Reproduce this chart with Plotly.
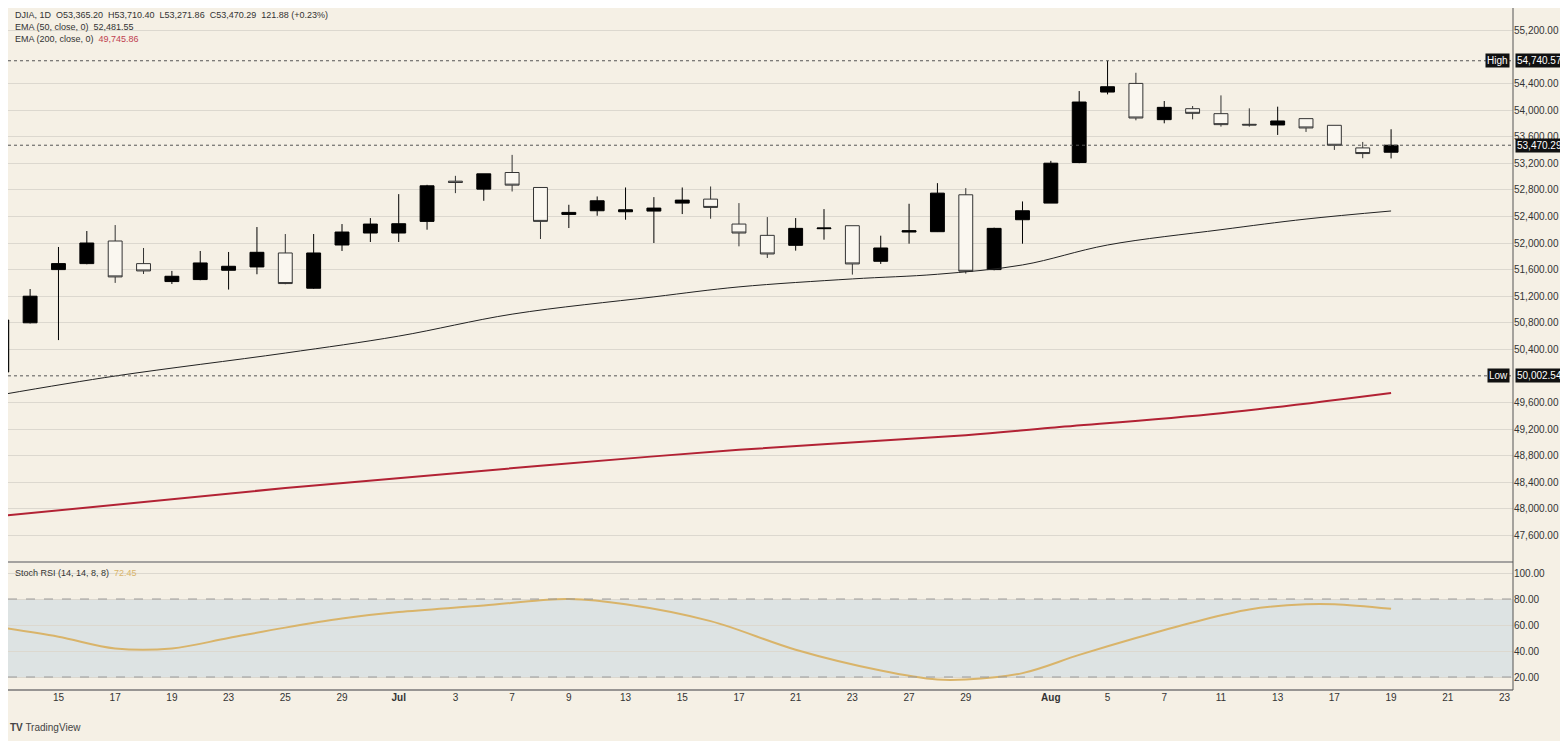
import plotly.graph_objects as go

# daily candles, index 0 = first (clipped) bar on the left
opens = [50060, 50800, 51600, 51690, 52030, 51690, 51420, 51450, 51590, 51640,
         51850, 51320, 51970, 52150, 52150, 52325, 52930, 52810, 53060, 52835,
         52430, 52485, 52470, 52480, 52600, 52660, 52285, 52115, 51965, 52215,
         52260, 51725, 52165, 52170, 52725, 51600, 52350, 52600, 53210, 54270,
         54400, 53855, 54020, 53945, 53785, 53775, 53870, 53770, 53430, 53365.20]
highs = [50850, 51308, 51940, 52180, 52270, 51925, 51580, 51880, 51865, 52240,
         52135, 52135, 52285, 52375, 52735, 52875, 53010, 53040, 53325, 52840,
         52575, 52700, 52835, 52690, 52835, 52850, 52600, 52390, 52375, 52510,
         52260, 52110, 52590, 52900, 52825, 52230, 52625, 53235, 54285, 54740.57,
         54560, 54135, 54060, 54220, 54025, 54050, 53870, 53770, 53520, 53710.40]
lows = [50002.54, 50790, 50540, 51680, 51400, 51534, 51383, 51440, 51300, 51530,
        51380, 51310, 51880, 52015, 52015, 52200, 52750, 52635, 52775, 52060,
        52225, 52410, 52350, 52000, 52435, 52365, 51950, 51775, 51885, 52050,
        51525, 51685, 51990, 52165, 51540, 51590, 51990, 52600, 53200, 54235,
        53845, 53800, 53860, 53750, 53750, 53625, 53670, 53400, 53275, 53271.86]
closes = [50842, 51200, 51690, 52000, 51490, 51580, 51500, 51700, 51650, 51860,
          51390, 51850, 52165, 52285, 52290, 52860, 52910, 53040, 52870, 52325,
          52460, 52635, 52500, 52525, 52645, 52535, 52150, 51835, 52220, 52225,
          51685, 51925, 52185, 52750, 51575, 52220, 52485, 53200, 54120, 54350,
          53880, 54040, 53950, 53780, 53775, 53835, 53730, 53470, 53345, 53470.29]
bar_idx = list(range(len(opens)))

# EMA lines read at selected bars
ema50_idx = [0, 4, 10, 14, 18, 23, 26, 30, 33, 36, 39, 43, 46, 49]
ema50 = [49720, 50000, 50345, 50600, 50930, 51190, 51340, 51460, 51530, 51670,
         51970, 52200, 52360, 52481.55]
ema200_idx = [0, 10, 19, 26, 34, 37, 43, 49]
ema200 = [47895, 48315, 48650, 48890, 49110, 49220, 49440, 49745.86]

# Stoch RSI
stoch_idx = [0, 2, 4, 6, 8, 10, 12, 14, 17, 19, 20, 22, 25, 28, 31, 33, 34, 36,
             38, 40, 42, 44, 46, 47, 49]
stoch = [58, 51, 42, 42, 50, 58, 65, 70, 75, 79, 80, 76, 63, 41, 25, 18, 18, 23,
         37, 50, 62, 72, 76, 76, 72.45]

tick_pos = [2, 4, 6, 8, 10, 12, 14, 16, 18, 20, 22, 24, 26, 28, 30, 32, 34, 37,
            39, 41, 43, 45, 47, 49, 51, 53]
tick_txt = ["15", "17", "19", "23", "25", "29", "<b>Jul</b>", "3", "7", "9", "13",
            "15", "17", "21", "23", "27", "29", "<b>Aug</b>", "5", "7", "11", "13",
            "17", "19", "21", "23"]

price_ticks = list(range(47600, 55201, 400))
stoch_ticks = [20, 40, 60, 80, 100]

hi_val, lo_val, last_val = 54740.57, 50002.54, 53470.29

BG = "#f5f0e5"
GRID = "#dcd8cf"
FONT = "Liberation Sans"
SPLIT = 0.1877  # stoch pane / price pane boundary
PH = 682        # plot height in px

fig = go.Figure()

fig.add_trace(go.Scatter(x=ema200_idx, y=ema200, mode="lines", line=dict(color="#b22234", width=2, shape="spline"),
                         xaxis="x", yaxis="y", hoverinfo="skip"))
fig.add_trace(go.Scatter(x=ema50_idx, y=ema50, mode="lines", line=dict(color="#222", width=1, shape="spline"),
                         xaxis="x", yaxis="y", hoverinfo="skip"))
fig.add_trace(go.Candlestick(x=bar_idx, open=opens, high=highs, low=lows, close=closes,
                             increasing=dict(line=dict(color="#000", width=1), fillcolor="#000"),
                             decreasing=dict(line=dict(color="#333", width=1), fillcolor="#faf7f0"),
                             whiskerwidth=0, xaxis="x", yaxis="y"))
fig.add_trace(go.Scatter(x=stoch_idx, y=stoch, mode="lines", line=dict(color="#d9b46a", width=2, shape="spline"),
                         xaxis="x", yaxis="y2", hoverinfo="skip"))

shapes = [
    # stoch band
    dict(type="rect", xref="x domain", yref="y2", x0=0, x1=1, y0=20, y1=80,
         fillcolor="#dde3e3", line_width=0, layer="below"),
    dict(type="line", xref="x domain", yref="y2", x0=0, x1=1, y0=80, y1=80, line=dict(color="#999", width=1, dash="dash")),
    dict(type="line", xref="x domain", yref="y2", x0=0, x1=1, y0=20, y1=20, line=dict(color="#999", width=1, dash="dash")),
    # high / low / last dotted lines
    dict(type="line", xref="x domain", yref="y", x0=0, x1=1, y0=hi_val, y1=hi_val, line=dict(color="#555", width=1, dash="dot")),
    dict(type="line", xref="x domain", yref="y", x0=0, x1=1, y0=lo_val, y1=lo_val, line=dict(color="#555", width=1, dash="dot")),
    dict(type="line", xref="x domain", yref="y", x0=0, x1=1, y0=last_val, y1=last_val, line=dict(color="#555", width=1, dash="dot")),
    # pane separator and axis borders
    dict(type="line", xref="paper", yref="paper", x0=0, x1=1, y0=SPLIT, y1=SPLIT, line=dict(color="#888", width=1.5)),
    dict(type="line", xref="paper", yref="paper", x0=0, x1=1, y0=0, y1=0, line=dict(color="#777", width=1.5)),
    dict(type="line", xref="paper", yref="paper", x0=1, x1=1, y0=0, y1=1, line=dict(color="#555", width=1)),
]

annotations = [
    dict(xref="paper", yref="paper", x=0.003, y=1.0, xanchor="left", yanchor="top", showarrow=False,
         text="DJIA, 1D  O53,365.20  H53,710.40  L53,271.86  C53,470.29  121.88 (+0.23%)",
         font=dict(size=9, color="#333", family=FONT)),
    dict(xref="paper", yref="paper", x=0.003, y=1.0 - 12 / PH, xanchor="left", yanchor="top", showarrow=False,
         text="EMA (50, close, 0)  52,481.55", font=dict(size=9, color="#333", family=FONT)),
    dict(xref="paper", yref="paper", x=0.003, y=1.0 - 24 / PH, xanchor="left", yanchor="top", showarrow=False,
         text="EMA (200, close, 0)  <span style='color:#c04050'>49,745.86</span>",
         font=dict(size=9, color="#333", family=FONT)),
    dict(xref="paper", yref="paper", x=0.003, y=SPLIT - 4 / PH, xanchor="left", yanchor="top", showarrow=False,
         text="Stoch RSI (14, 14, 8, 8)  <span style='color:#d9b46a'>72.45</span>",
         font=dict(size=9, color="#333", family=FONT)),
]
for val, lab in [(hi_val, "High"), (lo_val, "Low"), (last_val, None)]:
    annotations.append(dict(xref="paper", yref="y", x=1.001, y=val, xanchor="left", showarrow=False,
                            text=f"{val:,.2f}", bgcolor="#111", font=dict(size=10, color="#fff", family=FONT),
                            borderpad=1))
    if lab:
        annotations.append(dict(xref="paper", yref="y", x=0.998, y=val, xanchor="right", showarrow=False,
                                text=lab, bgcolor="#111", font=dict(size=10, color="#fff", family=FONT),
                                borderpad=1))
annotations.append(dict(xref="paper", yref="paper", x=0.0, y=-30 / PH, xanchor="left", yanchor="top",
                        showarrow=False, text="<b>TV</b> TradingView", font=dict(size=10, color="#444", family=FONT)))

hidden = {54800, 50000}
fig.update_layout(
    width=1560, height=733,
    margin=dict(l=0, r=55, t=0, b=51, autoexpand=False),
    paper_bgcolor=BG, plot_bgcolor=BG,
    showlegend=False,
    font=dict(family=FONT, size=10, color="#333"),
    xaxis=dict(range=[0.22, 53.3], tickvals=tick_pos, ticktext=tick_txt, showgrid=False, zeroline=False,
               rangeslider=dict(visible=False), anchor="y2", ticks="", tickfont=dict(size=10, color="#333")),
    yaxis=dict(domain=[SPLIT, 1], range=[47203, 55534], side="right",
               tickvals=[v for v in price_ticks if v not in hidden],
               ticktext=[f"{v:,.2f}" for v in price_ticks if v not in hidden],
               showgrid=True, gridcolor=GRID, zeroline=False, tickfont=dict(size=10, color="#333")),
    yaxis2=dict(domain=[0, SPLIT], range=[10, 108.5], side="right", anchor="x",
                tickvals=stoch_ticks, ticktext=[f"{v:.2f}" for v in stoch_ticks],
                showgrid=True, gridcolor=GRID, zeroline=False, tickfont=dict(size=10, color="#333")),
    shapes=shapes, annotations=annotations,
)

fig.write_html("out.html")
